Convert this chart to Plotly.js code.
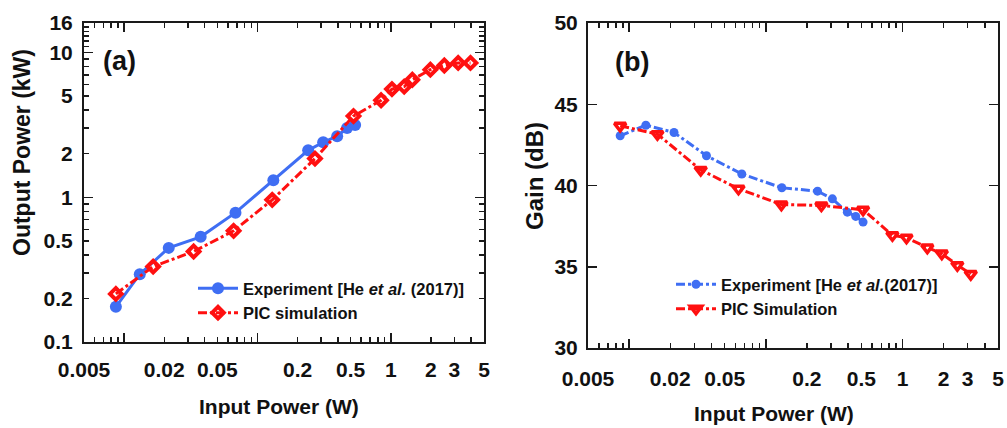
<!DOCTYPE html>
<html>
<head>
<meta charset="utf-8">
<script src="https://cdn.plot.ly/plotly-3.0.1.min.js"></script>
<style>html,body{margin:0;padding:0;background:#fff;}#chart{width:1007px;height:428px;}</style>
</head>
<body>
<div id="chart"></div>
<script>
// ---------- data ----------
// Panel (a): Output power vs input power
const expA_in  = [0.00867, 0.0131, 0.0216, 0.0375, 0.0684, 0.1315, 0.240, 0.311, 0.396, 0.470, 0.540];
const expA_out = [0.175, 0.294, 0.447, 0.533, 0.783, 1.31, 2.11, 2.40, 2.64, 3.01, 3.16];
const picA_in  = [0.00867, 0.0165, 0.0332, 0.0662, 0.129, 0.270, 0.525, 0.845, 1.02, 1.26, 1.45, 1.98, 2.52, 3.2, 3.96];
const picA_out = [0.215, 0.332, 0.422, 0.586, 0.96, 1.85, 3.64, 4.68, 5.59, 5.82, 6.49, 7.62, 8.13, 8.48, 8.48];
// Panel (b): Gain vs input power
const expB_in   = [0.0086, 0.01325, 0.0213, 0.0368, 0.0667, 0.131, 0.239, 0.307, 0.395, 0.455, 0.515];
const expB_gain = [43.06, 43.71, 43.26, 41.83, 40.71, 39.86, 39.65, 39.18, 38.36, 38.10, 37.75];
const picB_in   = [0.0086, 0.0161, 0.0334, 0.0631, 0.130, 0.255, 0.515, 0.844, 1.07, 1.52, 1.94, 2.52, 3.16];
const picB_gain = [43.67, 43.16, 40.96, 39.80, 38.83, 38.77, 38.51, 36.94, 36.79, 36.18, 35.81, 35.10, 34.55];

// tick labels
const xTickVals = [0.005, 0.02, 0.05, 0.2, 0.5, 1, 2, 3, 5];
const xTickText = ['0.005', '0.02', '0.05', '0.2', '0.5', '1', '2', '3', '5'];
const xMinorVals = [0.006,0.007,0.008,0.009,0.03,0.04,0.06,0.07,0.08,0.09,0.3,0.4,0.6,0.7,0.8,0.9,4];
const xDecades = [0.01, 0.1, 1];
const yATickVals = [0.1, 0.2, 0.5, 1, 2, 5, 10, 16];
const yATickText = ['0.1', '0.2', '0.5', '1', '2', '5', '10', '16'];
const yAMinorVals = [0.3,0.4,0.6,0.7,0.8,0.9,3,4,6,7,8,9,11,12,13,14,15];
const yADecades = [1, 10];
const yBTickVals = [30, 35, 40, 45, 50];

const names = {
  expA: 'Experiment [He <i>et al.</i> (2017)]',
  picA: 'PIC simulation',
  expB: 'Experiment [He <i>et al.</i>(2017)]',
  picB: 'PIC Simulation'
};

// ---------- styling ----------
const BLUE = '#3f6ef3';
const RED = '#ff1010';
const FONT = 'Liberation Sans, Arial, sans-serif';
const tickFont = {family: FONT, size: 21, color: '#111', weight: 'bold'};

const xRangeA = [Math.log10(0.005), Math.log10(5)];
const yRangeA = [-1, Math.log10(16)];

function logX(extra) {
  return Object.assign({
    type: 'log', range: xRangeA, showgrid: false, zeroline: false,
    showline: true, linecolor: '#1a1a1a', linewidth: 2, mirror: 'ticks',
    ticks: 'inside', ticklen: 5, tickwidth: 1.5, tickcolor: '#1a1a1a',
    tickmode: 'array', tickvals: xTickVals, ticktext: xTickText,
    tickfont: tickFont, ticklabelstandoff: 8,
    minor: {tickmode: 'array', tickvals: xMinorVals, ticks: 'inside', ticklen: 5, tickwidth: 1.5, tickcolor: '#1a1a1a'},
    automargin: false, fixedrange: true
  }, extra);
}

const traces = [
  {x: expA_in, y: expA_out, xaxis: 'x', yaxis: 'y', name: names.expA, legend: 'legend',
   mode: 'lines+markers', line: {color: BLUE, width: 3},
   marker: {symbol: 'circle', size: 12, color: BLUE}},
  {x: picA_in, y: picA_out, xaxis: 'x', yaxis: 'y', name: names.picA, legend: 'legend',
   mode: 'lines+markers', line: {color: RED, width: 3, dash: 'dashdot'},
   marker: {symbol: 'diamond-open', size: 9, color: RED, line: {color: RED, width: 4}}},
  {x: expB_in, y: expB_gain, xaxis: 'x2', yaxis: 'y2', name: names.expB, legend: 'legend2',
   mode: 'lines+markers', line: {color: BLUE, width: 3, dash: 'dashdot'},
   marker: {symbol: 'circle', size: 9, color: BLUE}},
  {x: picB_in, y: picB_gain, xaxis: 'x2', yaxis: 'y2', name: names.picB, legend: 'legend2',
   mode: 'lines+markers', line: {color: RED, width: 3, dash: 'dashdot'},
   marker: {symbol: 'triangle-down-open', size: 10, color: RED, line: {color: RED, width: 3.5}}},
  // empty traces so the overlay axes (long decade ticks) are drawn
  {x: [], y: [], xaxis: 'x3', yaxis: 'y', showlegend: false, hoverinfo: 'skip'},
  {x: [], y: [], xaxis: 'x', yaxis: 'y3', showlegend: false, hoverinfo: 'skip'},
  {x: [], y: [], xaxis: 'x4', yaxis: 'y2', showlegend: false, hoverinfo: 'skip'}
];

const decadeAxis = (overlay, anchor, vals, range) => ({
  overlaying: overlay, anchor: anchor, type: 'log', range: range,
  showgrid: false, zeroline: false, showline: false, mirror: 'ticks',
  ticks: 'inside', ticklen: 9, tickwidth: 1.5, tickcolor: '#1a1a1a',
  tickmode: 'array', tickvals: vals, showticklabels: false, automargin: false, fixedrange: true
});

const legendFont = {family: FONT, size: 16.5, color: '#111', weight: 'bold'};

function ann(text, x, y, size, angle) {
  return {text: text, xref: 'paper', yref: 'paper', x: x/1007, y: 1 - y/428,
    xanchor: 'center', yanchor: 'middle', showarrow: false, textangle: angle || 0,
    font: {family: FONT, size: size, color: '#111', weight: 'bold'}};
}

const layout = {
  width: 1007, height: 428,
  margin: {l: 0, r: 0, t: 0, b: 0},
  paper_bgcolor: '#ffffff', plot_bgcolor: '#ffffff',
  showlegend: true,
  font: {family: FONT, color: '#111'},
  xaxis: logX({domain: [84/1007, 484/1007], anchor: 'y'}),
  yaxis: {
    domain: [1 - 342/428, 1 - 23/428], anchor: 'x',
    type: 'log', range: yRangeA, showgrid: false, zeroline: false,
    showline: true, linecolor: '#1a1a1a', linewidth: 2, mirror: 'ticks',
    ticks: 'inside', ticklen: 5, tickwidth: 1.5, tickcolor: '#1a1a1a',
    tickmode: 'array', tickvals: yATickVals, ticktext: yATickText,
    tickfont: tickFont, ticklabelstandoff: 5,
    minor: {tickmode: 'array', tickvals: yAMinorVals, ticks: 'inside', ticklen: 5, tickwidth: 1.5, tickcolor: '#1a1a1a'},
    automargin: false, fixedrange: true
  },
  xaxis2: logX({domain: [588/1007, 998/1007], anchor: 'y2', ticklabelstandoff: 11}),
  yaxis2: {
    domain: [1 - 348/428, 1 - 23/428], anchor: 'x2',
    range: [30, 50], showgrid: false, zeroline: false,
    showline: true, linecolor: '#1a1a1a', linewidth: 2, mirror: 'ticks',
    ticks: 'inside', ticklen: 9, tickwidth: 1.5, tickcolor: '#1a1a1a',
    tickmode: 'array', tickvals: yBTickVals, tickfont: tickFont, ticklabelstandoff: 4,
    automargin: false, fixedrange: true
  },
  xaxis3: decadeAxis('x', 'y', xDecades, xRangeA),
  yaxis3: decadeAxis('y', 'x', yADecades, yRangeA),
  xaxis4: decadeAxis('x2', 'y2', xDecades, xRangeA),
  legend: {
    x: 193/1007, y: 1 - 271/428, xanchor: 'left', yanchor: 'top',
    bgcolor: 'rgba(0,0,0,0)', borderwidth: 0,
    font: legendFont, itemwidth: 40
  },
  legend2: {
    x: 671/1007, y: 1 - 267/428, xanchor: 'left', yanchor: 'top',
    bgcolor: 'rgba(0,0,0,0)', borderwidth: 0,
    font: legendFont, itemwidth: 40
  },
  annotations: [
    ann('(a)', 119, 61, 27),
    ann('(b)', 632, 62, 27),
    ann('Input Power (W)', 279, 406, 21),
    ann('Input Power (W)', 774, 413, 21),
    ann('Output Power (kW)', 22, 153, 23, -90),
    ann('Gain (dB)', 534, 176, 24, -90)
  ]
};

Plotly.newPlot('chart', traces, layout, {displayModeBar: false, staticPlot: true});
</script>
</body>
</html>
